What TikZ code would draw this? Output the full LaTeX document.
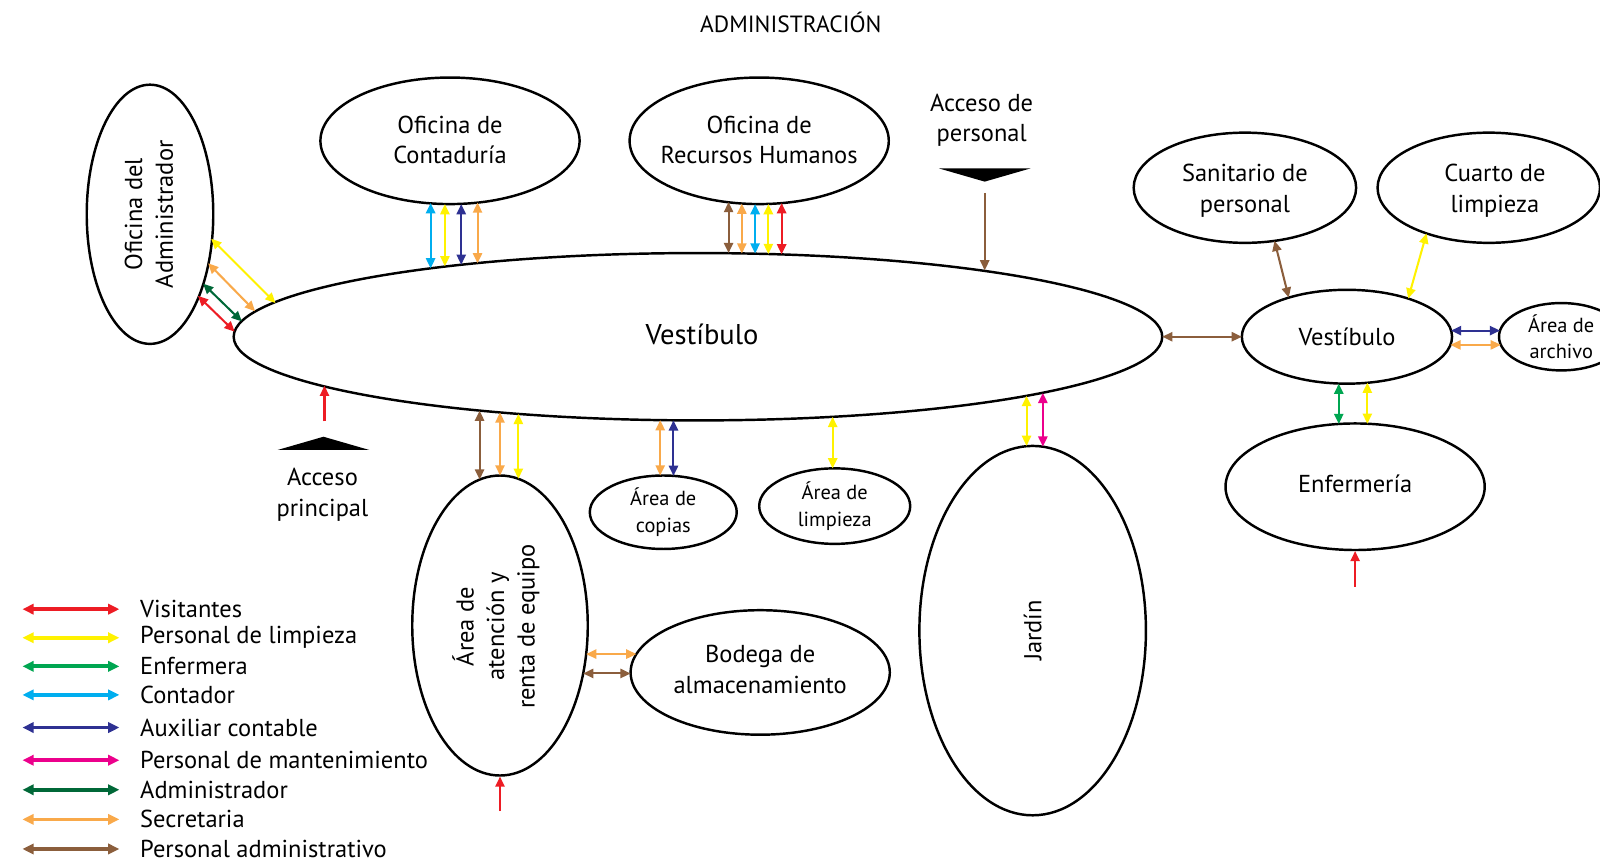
\documentclass[tikz,border=0pt]{standalone}
\usepackage{fontspec}
\setmainfont{PT Sans}
\usetikzlibrary{arrows.meta,calc,shapes.geometric}
\definecolor{cvis}{HTML}{ED1C24}
\definecolor{clim}{HTML}{FFF200}
\definecolor{cenf}{HTML}{00A651}
\definecolor{ccon}{HTML}{00AEEF}
\definecolor{caux}{HTML}{2E3192}
\definecolor{cman}{HTML}{EC008C}
\definecolor{cadm}{HTML}{006838}
\definecolor{csec}{HTML}{F9A94A}
\definecolor{cper}{HTML}{8B5E3C}
\begin{document}
\begin{tikzpicture}[x=0.5pt,y=-0.5pt,
  room/.style={ellipse,draw,line width=1.2pt,inner sep=0pt,outer sep=0pt},
  lbl/.style={align=center,font=\fontsize{12}{15}\selectfont,inner sep=0pt},
  big/.style={align=center,font=\fontsize{14}{16}\selectfont,inner sep=0pt},
  small/.style={align=center,font=\fontsize{10}{13}\selectfont,inner sep=0pt},
  flow/.style={line width=1pt,{Triangle[length=5pt,width=4.5pt]}-{Triangle[length=5pt,width=4.5pt]}},
  inflow/.style={line width=1pt,-{Triangle[length=5pt,width=4.5pt]}},
  key/.style={line width=1.8pt,{Triangle[length=5.5pt,width=5pt]}-{Triangle[length=5.5pt,width=5pt]}},
  keytext/.style={anchor=west,font=\fontsize{12}{14}\selectfont,inner sep=0pt}
]
\clip (0,0) rectangle (1568,849);
\fill[white] (0,0) rectangle (1568,849);

% title
\node[font=\fontsize{11.5}{13}\selectfont,inner sep=0pt] (title) at (775,22) {ADMINISTRACIÓN};

% rooms
\node[room,minimum width=455pt,minimum height=82pt] (M) at (684,330) {};
\node[room,minimum width=62pt,minimum height=127pt] (A) at (147,210) {};
\node[room,minimum width=127pt,minimum height=62pt] (C) at (441,138) {};
\node[room,minimum width=127pt,minimum height=62pt] (R) at (744,138) {};
\node[room,minimum width=109pt,minimum height=54pt] (S) at (1220,184) {};
\node[room,minimum width=109pt,minimum height=54pt] (K) at (1459,184) {};
\node[room,minimum width=103pt,minimum height=46pt] (V) at (1320,330) {};
\node[room,minimum width=61pt,minimum height=33pt] (Q) at (1530,330) {};
\node[room,minimum width=127pt,minimum height=62pt] (E) at (1328,477) {};
\node[room,minimum width=111pt,minimum height=181pt] (J) at (1012,618) {};
\node[room,minimum width=74pt,minimum height=37pt] (L) at (818,496) {};
\node[room,minimum width=72pt,minimum height=36pt] (P) at (650,502) {};
\node[room,minimum width=86pt,minimum height=147pt] (T) at (490,613) {};
\node[room,minimum width=127pt,minimum height=61pt] (B) at (745,659) {};

% labels
\node[big] (tM) at (688,328) {Vestíbulo};
\node[lbl,rotate=90] (tA) at (146,210) {Oficina del\\Administrador};
\node[lbl] (tC) at (441,137) {Oficina de\\Contaduría};
\node[lbl] (tR) at (744,137) {Oficina de\\Recursos Humanos};
\node[lbl] (tS) at (1220,187) {Sanitario de\\personal};
\node[lbl] (tK) at (1465,187) {Cuarto de\\limpieza};
\node[lbl] (tV) at (1320,330) {Vestíbulo};
\node[small] (tQ) at (1530,330) {Área de\\archivo};
\node[lbl] (tE) at (1328,474) {Enfermería};
\node[lbl,rotate=90] (tJ) at (1012,618) {Jardín};
\node[small] (tL) at (818,496) {Área de\\limpieza};
\node[small] (tP) at (650,502) {Área de\\copias};
\node[lbl,rotate=90] (tT) at (486,614) {Área de\\atención y\\renta de equipo};
\node[lbl] (tB) at (745,656) {Bodega de\\almacenamiento};

% accesses
\node[lbl] (ap) at (962,118) {Acceso de\\personal};
\fill (920,165) -- (1010,165) -- (965,178) -- cycle;
\coordinate (apin) at (965,189);
\draw[inflow,cper] (apin) -- ($(M)+(281,-65)$);

\node[lbl] (apr) at (316,485) {Acceso\\principal};
\fill (272,441) -- (362,441) -- (317,428) -- cycle;
\coordinate (aprin) at (318,413);
\draw[inflow,cvis] (aprin) -- ($(M)+(-366,48)$);

\coordinate (tin) at (490,795);
\draw[inflow,cvis] (tin) -- ($(T)+(0,148)$);
\coordinate (ein) at (1328,575);
\draw[inflow,cvis] (ein) -- ($(E)+(0,63)$);

% admin office
\draw[flow,clim] ($(A)+(60,24)$) -- ($(M)+(-414,-33)$);
\draw[flow,csec] ($(A)+(57,48)$) -- ($(M)+(-434,-25)$);
\draw[flow,cadm] ($(A)+(52,68)$) -- ($(M)+(-447,-15)$);
\draw[flow,cvis] ($(A)+(47,80)$) -- ($(M)+(-454,-5)$);

% contaduria
\draw[flow,ccon] ($(C)+(-19,61)$) -- ($(M)+(-262,-67)$);
\draw[flow,clim] ($(C)+(-5,62)$) -- ($(M)+(-248,-69)$);
\draw[flow,caux] ($(C)+(11,62)$) -- ($(M)+(-232,-70.5)$);
\draw[flow,csec] ($(C)+(27,60.5)$) -- ($(M)+(-216,-72)$);

% recursos humanos
\draw[flow,cper] ($(R)+(-30,60)$) -- ($(M)+(30,-82)$);
\draw[flow,csec] ($(R)+(-17,61.5)$) -- ($(M)+(43,-81.5)$);
\draw[flow,ccon] ($(R)+(-4,62)$) -- ($(M)+(56,-81.5)$);
\draw[flow,clim] ($(R)+(9,62)$) -- ($(M)+(69,-81)$);
\draw[flow,cvis] ($(R)+(22,61)$) -- ($(M)+(82,-80.7)$);

% copias, limpieza
\draw[flow,csec] ($(M)+(-37,81.7)$) -- ($(P)+(-3,-36)$);
\draw[flow,caux] ($(M)+(-24,81.9)$) -- ($(P)+(10,-35.6)$);
\draw[flow,clim] ($(M)+(132,78.5)$) -- ($(L)+(-2,-37)$);

% atencion
\draw[flow,cper] ($(M)+(-214,72.4)$) -- ($(T)+(-20,-143)$);
\draw[flow,csec] ($(M)+(-194,74.2)$) -- ($(T)+(0,-147)$);
\draw[flow,clim] ($(M)+(-176,75.6)$) -- ($(T)+(18,-143.8)$);

% bodega
\draw[flow,csec] ($(T)+(84.4,28)$) -- ($(B)+(-121.3,-18)$);
\draw[flow,cper] ($(T)+(81.5,47)$) -- ($(B)+(-127,1)$);

% jardin
\draw[flow,clim] ($(M)+(322,58)$) -- ($(J)+(-6,-181)$);
\draw[flow,cman] ($(M)+(338,55)$) -- ($(J)+(10,-180.3)$);

% right wing
\draw[flow,cper] (M.east) -- (V.west);
\draw[flow,cper] ($(S)+(29,52)$) -- ($(V)+(-57,-38.3)$);
\draw[flow,clim] ($(K)+(-61,44.7)$) -- ($(V)+(60,-37.4)$);
\draw[flow,caux] ($(V)+(102,-6)$) -- ($(Q)+(-60,-6)$);
\draw[flow,csec] ($(V)+(101.4,8)$) -- ($(Q)+(-59.2,8)$);
\draw[flow,cenf] ($(V)+(-8,46)$) -- ($(E)+(-16,-61.5)$);
\draw[flow,clim] ($(V)+(20,45)$) -- ($(E)+(12,-61.7)$);

% legend
\foreach \n/\yy/\c/\t in {1/597/cvis/Visitantes,2/625/clim/Personal de limpieza,3/653/cenf/Enfermera,4/681/ccon/Contador,5/713/caux/Auxiliar contable,6/745/cman/Personal de mantenimiento,7/774/cadm/Administrador,8/803/csec/Secretaria,9/832/cper/Personal administrativo}{
  \node[keytext] (k\n) at (137,\yy) {\t};
  \draw[key,\c] ($(k\n.west)+(-115,0)$) -- ($(k\n.west)+(-20,0)$);
}
\end{tikzpicture}
\end{document}
